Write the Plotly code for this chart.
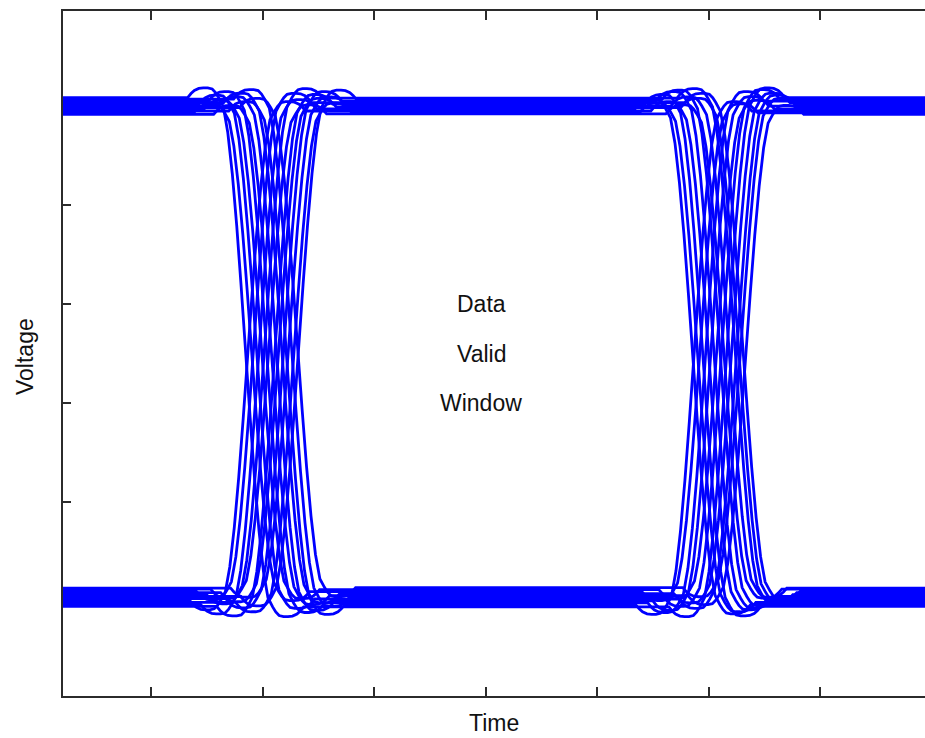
import plotly.graph_objects as go

# Axis ranges and tick positions (time in unit intervals, voltage normalised)
x_range = [0.21, 7.94]
y_range = [-0.192, 1.192]
x_ticks = [1, 2, 3, 4, 5, 6, 7]
y_ticks = [0.0, 0.2, 0.4, 0.6, 0.8, 1.0]

# Centres of the two eye crossings
crossings = [2.09, 6.10]

# Shape of one falling edge: time offset from the crossing vs. fraction of the swing
# (pre-shoot above the high level, undershoot below the low level)
edge_dt = [-0.62, -0.52, -0.49, -0.46, -0.42, -0.38, -0.34, -0.30, -0.27, -0.242,
           -0.20, -0.16, -0.12, -0.08, -0.04, 0.00, 0.04, 0.08, 0.12, 0.16, 0.20,
           0.242, 0.27, 0.30, 0.34, 0.38, 0.42, 0.46, 0.49, 0.52, 0.62]
edge_v = [1.0, 1.0, 1.008, 1.014, 1.018, 1.019, 1.019, 1.017, 1.010, 1.0,
          0.982, 0.931, 0.851, 0.748, 0.628, 0.500, 0.372, 0.252, 0.149, 0.069, 0.018,
          0.0, -0.010, -0.017, -0.019, -0.019, -0.018, -0.014, -0.008, 0.0, 0.0]

# Bit pattern of each trace
pattern = ["HLH"] * 11 + ["LHL"] * 11

# Edge timing jitter of each trace at the first and second crossing
shift_1 = [-0.242, -0.188, -0.143, -0.099, -0.054, -0.009, 0.036, 0.081, 0.126, 0.170, 0.224,
           -0.224, -0.170, -0.126, -0.072, -0.036, 0.018, 0.054, 0.099, 0.143, 0.188, 0.233]
shift_2 = [0.063, -0.179, 0.152, -0.027, -0.126, 0.233, -0.081, 0.108, -0.233, 0.018, 0.188,
           -0.099, 0.206, -0.242, 0.135, 0.036, -0.152, 0.170, -0.054, 0.081, -0.197, 0.000]

# Settled high and low level of each trace (amplitude noise)
high_level = [1.017, 0.986, 1.003, 0.993, 1.010, 0.983, 1.000, 1.007, 0.990, 1.014, 0.997,
              0.990, 1.007, 0.994, 1.016, 0.984, 1.004, 0.997, 1.010, 1.000, 0.987, 1.013]
low_level = [-0.012, 0.019, 0.004, 0.023, -0.004, 0.011, 0.000, 0.015, -0.008, 0.008, 0.027,
             0.001, 0.021, -0.007, 0.013, 0.024, -0.011, 0.017, 0.005, 0.026, -0.003, 0.009]

# Eye labels
eye_label = ["Data", "Valid", "Window"]
eye_label_y = [0.6, 0.5, 0.4]
eye_label_x = 3.96

FONT = "Liberation Sans, Arial, sans-serif"
AXIS_COLOR = "#2b2b2b"

fig = go.Figure()

for i in range(len(pattern)):
    hi, lo = high_level[i], low_level[i]
    first_high = pattern[i] == "HLH"
    xs = [x_range[0] - 0.5]
    ys = [hi if first_high else lo]
    for k, (tc, s) in enumerate(zip(crossings, [shift_1[i], shift_2[i]])):
        falling = (k == 0) == first_high
        for d, v in zip(edge_dt, edge_v):
            xs.append(tc + s + d)
            frac = v if falling else 1.0 - v
            ys.append(lo + (hi - lo) * frac)
    xs.append(x_range[1] + 0.5)
    ys.append(hi if first_high else lo)
    fig.add_trace(go.Scatter(
        x=xs, y=ys, mode="lines",
        line=dict(color="#0000ff", width=2.8, simplify=False),
        hoverinfo="skip", showlegend=False,
    ))

for text, yv in zip(eye_label, eye_label_y):
    fig.add_annotation(
        x=eye_label_x, y=yv, xref="x", yref="y", text=text, showarrow=False,
        xanchor="center", yanchor="middle",
        font=dict(family=FONT, size=23, color="#111111"),
    )

# Axis titles
fig.add_annotation(
    x=0.5, y=-0.040, xref="paper", yref="paper", text="Time", showarrow=False,
    xanchor="center", yanchor="middle",
    font=dict(family=FONT, size=23, color="#111111"),
)
fig.add_annotation(
    x=-0.044, y=0.495, xref="paper", yref="paper", text="Voltage", showarrow=False,
    xanchor="center", yanchor="middle", textangle=-90,
    font=dict(family=FONT, size=23, color="#111111"),
)

fig.update_xaxes(
    range=x_range, tickvals=x_ticks, showticklabels=False,
    ticks="inside", ticklen=9, tickwidth=1.5, tickcolor=AXIS_COLOR,
    showline=True, linecolor=AXIS_COLOR, linewidth=1.5, mirror="ticks",
    showgrid=False, zeroline=False, layer="below traces",
)
fig.update_yaxes(
    range=y_range, tickvals=y_ticks, showticklabels=False,
    ticks="inside", ticklen=8, tickwidth=1.5, tickcolor=AXIS_COLOR,
    showline=True, linecolor=AXIS_COLOR, linewidth=1.5,
    showgrid=False, zeroline=False, layer="below traces",
)

fig.update_layout(
    width=925, height=738,
    margin=dict(l=63, r=0, t=11, b=42),
    paper_bgcolor="white", plot_bgcolor="white",
    showlegend=False,
)

fig.write_html("out.html")
